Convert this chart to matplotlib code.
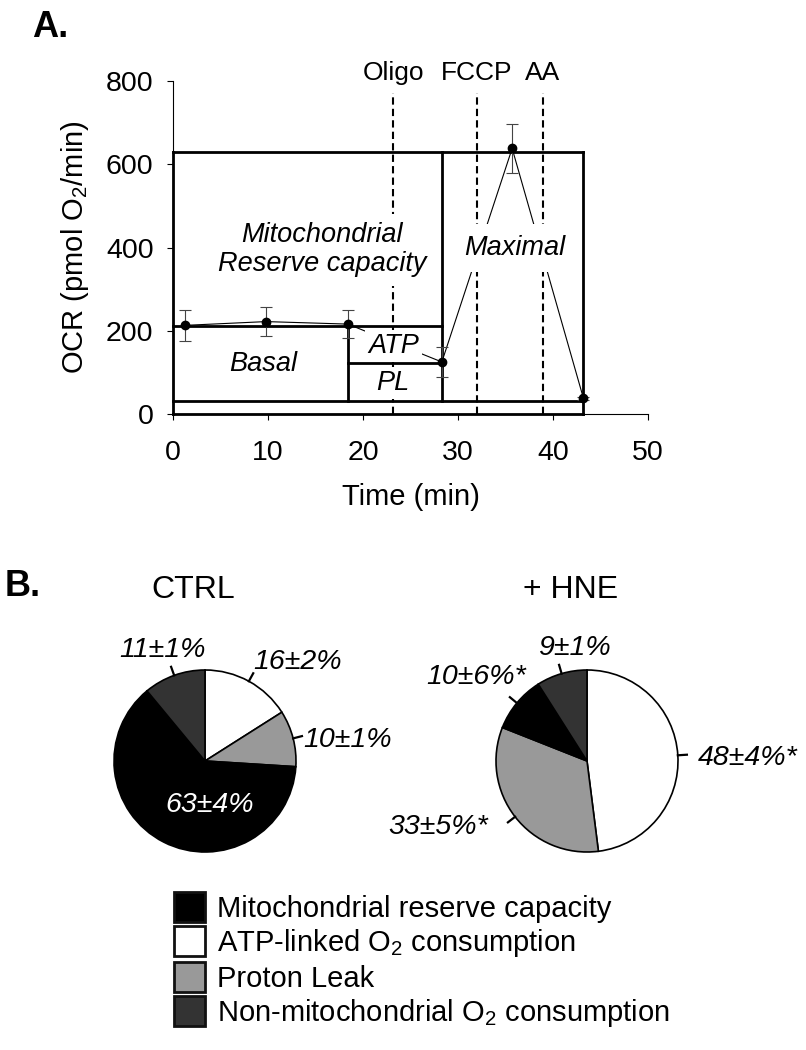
import numpy as np
import matplotlib
matplotlib.use("Agg")
import matplotlib.pyplot as plt
from matplotlib.patches import Patch

plt.rcParams["font.family"] = ["Liberation Sans", "DejaVu Sans"]
plt.rcParams["mathtext.fontset"] = "custom"
plt.rcParams["mathtext.rm"] = "Liberation Sans"
plt.rcParams["mathtext.it"] = "Liberation Sans:italic"

# -------------------------
# DATA - panel A (OCR trace)
# -------------------------
time_min = [1.3, 9.8, 18.4, 28.3, 35.7, 43.2]
ocr = [213, 222, 216, 125, 638, 38]
ocr_err = [38, 35, 33, 35, 58, 4]

inject_names = ["Oligo", "FCCP", "AA"]
inject_times = [23.2, 32.0, 38.9]

# levels for the boxes
nonmito_level = 31
atp_low_level = 123
basal_level = 212
maximal_level = 630

# -------------------------
# DATA - panel B (pies)
# -------------------------
fractions = ["ATP-linked O$_2$ consumption", "Proton Leak",
             "Mitochondrial reserve capacity", "Non-mitochondrial O$_2$ consumption"]
ctrl_pct = [16, 10, 63, 11]
ctrl_lbl = ["16±2%", "10±1%", "63±4%", "11±1%"]
hne_pct = [48, 33, 10, 9]
hne_lbl = ["48±4%*", "33±5%*", "10±6%*", "9±1%"]
legend_order = [2, 0, 1, 3]

colors = ["white", "#999999", "black", "#333333"]

# -------------------------
# LAYOUT (pixels, top-left origin)
# -------------------------
W, H = 806, 1050
ctrl_text_pos = [(253, 662, "left"), (303, 740, "left"), (210, 805, "center"), (163, 650, "center")]
hne_text_pos = [(698, 758, "left"), (488, 827, "right"), (526, 677, "right"), (538, 648, "left")]

fig = plt.figure(figsize=(W / 100, H / 100), dpi=100)

# -------------------------
# PANEL A
# -------------------------
ax = fig.add_axes([173 / W, 1 - 414 / H, 475 / W, 333 / H])
ax.set_xlim(0, 50)
ax.set_ylim(0, 800)
ax.spines[["top", "right"]].set_visible(False)
ax.spines[["left", "bottom"]].set_linewidth(0.8)
ax.set_xticks(range(0, 51, 10))
ax.set_yticks(range(0, 801, 200))
ax.tick_params(labelsize=20.5, length=4, width=0.8, direction="out")
ax.tick_params(axis="x", pad=15)
ax.tick_params(axis="y", pad=10)
ax.set_xlabel("Time (min)", fontsize=21, labelpad=12)
ax.set_ylabel("OCR (pmol O$_2$/min)", fontsize=21, labelpad=11)

for name, t in zip(inject_names, inject_times):
    ax.vlines(t, 0, 771, colors="k", linestyles=(0, (3.5, 2)), lw=1.5, zorder=1)
    ax.text(t, 819, name, ha="center", va="center", fontsize=19, clip_on=False)

ax.plot(time_min, ocr, color="k", lw=0.8, zorder=1.5, clip_on=False)
ax.errorbar(time_min, ocr, yerr=ocr_err, fmt="o", color="k", ms=6,
            ecolor="#444444", elinewidth=0.8, capsize=4, capthick=0.8,
            zorder=4, clip_on=False)

t_pl = time_min[2]
t_max = time_min[3]
t_end = time_min[5]
box = dict(colors="k", lw=2, zorder=3, clip_on=False, capstyle="projecting")
ax.hlines([0, nonmito_level, maximal_level], 0, t_end, **box)
ax.hlines(basal_level, 0, t_max, **box)
ax.hlines(atp_low_level, t_pl, t_max, **box)
ax.vlines([0, t_end], 0, maximal_level, **box)
ax.vlines(t_pl, nonmito_level, basal_level, **box)
ax.vlines(t_max, nonmito_level, maximal_level, **box)

txt = dict(ha="center", va="center", fontsize=19.5, style="italic", zorder=2)
ax.text(15.7, 394, "Mitochondrial\nReserve capacity", linespacing=1.15,
        bbox=dict(fc="white", ec="none", pad=6), **txt)
ax.text(36.0, 399, "Maximal", bbox=dict(fc="white", ec="none", pad=8), **txt)
ax.text(9.5, 120, "Basal", **txt)
ax.text(23.2, 163, "ATP", bbox=dict(fc="white", ec="none", pad=2), **txt)
ax.text(23.1, 74, "PL", bbox=dict(fc="white", ec="none", pad=2), **txt)

# -------------------------
# PANEL B
# -------------------------
axb = fig.add_axes([0, 0, 1, 1])
axb.set_axis_off()
radius = 91
pies = [((205, 761), ctrl_pct, ctrl_lbl, ctrl_text_pos),
        ((587, 761), hne_pct, hne_lbl, hne_text_pos)]
for (cx, cy), pct, lbl, pos in pies:
    wedges, _ = axb.pie(pct, colors=colors, startangle=90, counterclock=False,
                        radius=radius, center=(cx, H - cy),
                        wedgeprops=dict(edgecolor="k", linewidth=1.2))
    for w, s, (tx, ty, ha) in zip(wedges, lbl, pos):
        inside = w.get_facecolor()[0] < 0.1 and ha == "center" and ty > cy
        if inside:
            axb.text(tx, H - ty, s, ha="center", va="center", fontsize=20.5,
                     style="italic", color="white")
            continue
        ang = np.deg2rad((w.theta1 + w.theta2) / 2)
        r0, r1 = radius, radius * 1.1
        axb.plot([cx + r0 * np.cos(ang), cx + r1 * np.cos(ang)],
                 [H - cy + r0 * np.sin(ang), H - cy + r1 * np.sin(ang)],
                 color="k", lw=1.6)
        axb.text(tx, H - ty, s, ha=ha, va="center", fontsize=20.5, style="italic")
axb.set_xlim(0, W)
axb.set_ylim(0, H)

fig.text(193 / W, 1 - 598 / H, "CTRL", fontsize=23, ha="center", va="baseline")
fig.text(571 / W, 1 - 598 / H, "+ HNE", fontsize=23, ha="center", va="baseline")

fig.text(32 / W, 1 - 37 / H, "A.", fontsize=26, fontweight="bold", ha="left", va="baseline")
fig.text(5 / W, 1 - 596 / H, "B.", fontsize=26, fontweight="bold", ha="left", va="baseline")

handles = [Patch(facecolor=colors[i], edgecolor="#111111", linewidth=2, joinstyle="round")
           for i in legend_order]
labels = [fractions[i] for i in legend_order]
fig.legend(handles, labels, loc="upper left", bbox_to_anchor=(174 / W, 1 - 892 / H),
           frameon=False, fontsize=21, handlelength=1.06, handleheight=1.2,
           handletextpad=0.41, labelspacing=0.11, borderpad=0, borderaxespad=0)

fig.savefig("out.png", dpi=100)
